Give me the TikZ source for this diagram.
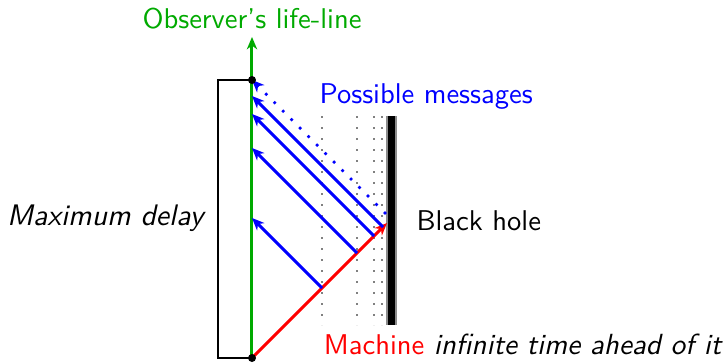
\documentclass[tikz,border=0pt]{standalone}
\usepackage{fontspec}
\usetikzlibrary{arrows.meta}
\definecolor{lifegreen}{RGB}{0,170,0}
\newcommand{\itx}[2]{{\fontsize{#1}{12}\selectfont\itshape #2}}
\begin{document}
\begin{tikzpicture}[x=0.35pt,y=-0.35pt,font=\sffamily,
  tip/.style={-{Stealth[length=4.3pt,width=3.6pt,inset=1.3pt]}},
  ray/.style={blue,line width=1.05pt,tip},
  vdots/.style={gray,line width=0.55pt,dash pattern=on 0.55pt off 3.3pt},
  lbl/.style={inner sep=0pt,anchor=center}]
\useasboundingbox (0,0) rectangle (725,363);
% coordinates
\coordinate (start) at (252,358);
\coordinate (top) at (252,37);
\coordinate (last) at (252,80);
\coordinate (hz) at (387,223);
\coordinate (m1) at (322,288);
\coordinate (m2) at (357,253);
\coordinate (m3) at (374,236);
\coordinate (m4) at (383,227);
\coordinate (r1) at (252,218);
\coordinate (r2) at (252,148);
\coordinate (r3) at (252,114);
\coordinate (r4) at (252,96);
\coordinate (hd) at (385,213);
% dotted verticals
\foreach \xx/\nm in {322/a,357/b,374/c,382/d}{
  \coordinate (\nm t) at (\xx,116);
  \coordinate (\nm b) at (\xx,325);
  \draw[vdots] (\nm t) -- (\nm b);
}
% black hole
\coordinate (bht) at (391.5,116);
\coordinate (bhb) at (391.5,325);
\draw[gray!90,line width=4.1pt] (bht) -- (bhb);
\draw[black,line width=2.3pt] (bht) -- (bhb);
% bracket
\coordinate (bl1) at (218,80);
\coordinate (bl2) at (218,358);
\draw[black,line width=0.6pt] (last) -- (bl1) -- (bl2) -- (start);
% life line
\draw[lifegreen,line width=1.05pt,tip] (start) -- (top);
% machine
\draw[red,line width=1.05pt,tip] (start) -- (hz);
% messages
\draw[ray] (m1) -- (r1);
\draw[ray] (m2) -- (r2);
\draw[ray] (m3) -- (r3);
\draw[ray] (m4) -- (r4);
\draw[blue,line width=1.3pt,line cap=round,dash pattern=on 0pt off 4.2pt,tip] (hd) -- (last);
% dots
\fill[black] (last) circle[radius=4];
\fill[black] (start) circle[radius=4];
% labels
\node[lbl,lifegreen] (obs) at (252,19) {Observer's life-line};
\node[lbl,blue,anchor=west] (pm) at (319,97) {Possible messages};
\node[lbl,anchor=west] (bh) at (416,221) {Black hole};
\node[lbl,anchor=east] (md) at (204,218) {\itx{10.4}{Maximum delay}};
\node[lbl,anchor=east] (mc) at (722,344) {\textcolor{red}{Machine} \itx{10.2}{infinite time ahead of it}};
\end{tikzpicture}
\end{document}
